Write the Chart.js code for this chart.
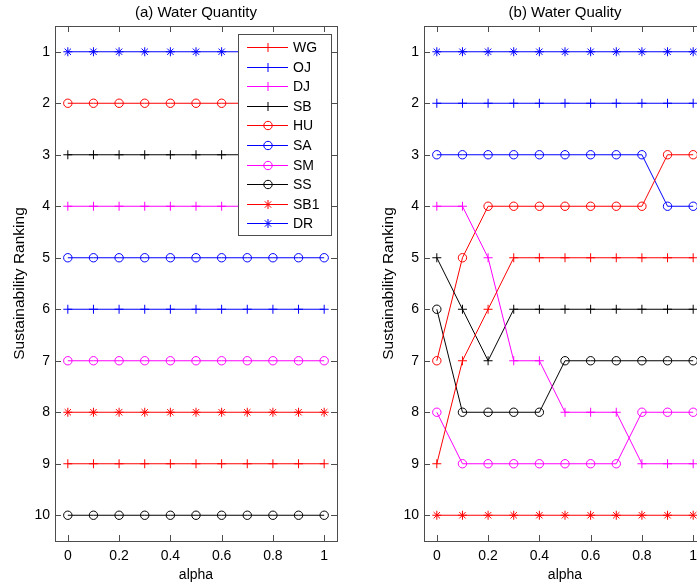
<!DOCTYPE html>
<html>
<head>
<meta charset="utf-8">
<script src="https://cdn.jsdelivr.net/npm/chart.js@4/dist/chart.umd.min.js"></script>
<style>
  html, body { margin: 0; padding: 0; background: #fff; overflow: hidden; width: 697px; height: 585px; }
  .panel { position: absolute; top: 0; width: 350px; height: 585px; }
  #left { left: 0; }
  #right { left: 369px; }
</style>
</head>
<body>
<div class="panel" id="left"><canvas id="qtyChart"></canvas></div>
<div class="panel" id="right"><canvas id="qualChart"></canvas></div>
<script>
// --- Data ---
const alphas = [0, 0.1, 0.2, 0.3, 0.4, 0.5, 0.6, 0.7, 0.8, 0.9, 1];
const xTicks = [0, 0.2, 0.4, 0.6, 0.8, 1];
const yTicks = [1, 2, 3, 4, 5, 6, 7, 8, 9, 10];
const names = ['WG', 'OJ', 'DJ', 'SB', 'HU', 'SA', 'SM', 'SS', 'SB1', 'DR'];

// (a) Water Quantity rankings
const qtyWG  = [9, 9, 9, 9, 9, 9, 9, 9, 9, 9, 9];
const qtyOJ  = [6, 6, 6, 6, 6, 6, 6, 6, 6, 6, 6];
const qtyDJ  = [4, 4, 4, 4, 4, 4, 4, 4, 4, 4, 4];
const qtySB  = [3, 3, 3, 3, 3, 3, 3, 3, 3, 3, 3];
const qtyHU  = [2, 2, 2, 2, 2, 2, 2, 2, 2, 2, 2];
const qtySA  = [5, 5, 5, 5, 5, 5, 5, 5, 5, 5, 5];
const qtySM  = [7, 7, 7, 7, 7, 7, 7, 7, 7, 7, 7];
const qtySS  = [10, 10, 10, 10, 10, 10, 10, 10, 10, 10, 10];
const qtySB1 = [8, 8, 8, 8, 8, 8, 8, 8, 8, 8, 8];
const qtyDR  = [1, 1, 1, 1, 1, 1, 1, 1, 1, 1, 1];

// (b) Water Quality rankings
const qualWG  = [9, 7, 6, 5, 5, 5, 5, 5, 5, 5, 5];
const qualOJ  = [2, 2, 2, 2, 2, 2, 2, 2, 2, 2, 2];
const qualDJ  = [4, 4, 5, 7, 7, 8, 8, 8, 9, 9, 9];
const qualSB  = [5, 6, 7, 6, 6, 6, 6, 6, 6, 6, 6];
const qualHU  = [7, 5, 4, 4, 4, 4, 4, 4, 4, 3, 3];
const qualSA  = [3, 3, 3, 3, 3, 3, 3, 3, 3, 4, 4];
const qualSM  = [8, 9, 9, 9, 9, 9, 9, 9, 8, 8, 8];
const qualSS  = [6, 8, 8, 8, 8, 7, 7, 7, 7, 7, 7];
const qualSB1 = [10, 10, 10, 10, 10, 10, 10, 10, 10, 10, 10];
const qualDR  = [1, 1, 1, 1, 1, 1, 1, 1, 1, 1, 1];

// --- Styles (MATLAB-ish) ---
const seriesStyle = {
    WG:  { color: '#ff0000', marker: 'cross' },
    OJ:  { color: '#0000ff', marker: 'cross' },
    DJ:  { color: '#ff00ff', marker: 'cross' },
    SB:  { color: '#000000', marker: 'cross' },
    HU:  { color: '#ff0000', marker: 'circle' },
    SA:  { color: '#0000ff', marker: 'circle' },
    SM:  { color: '#ff00ff', marker: 'circle' },
    SS:  { color: '#000000', marker: 'circle' },
    SB1: { color: '#ff0000', marker: 'star' },
    DR:  { color: '#0000ff', marker: 'star' }
};
const FONT = "'Liberation Sans', Arial, Helvetica, sans-serif";
const AXIS_COLOR = '#4d4d4d';

function buildDatasets(seriesList) {
    return names.map((name, k) => {
        const st = seriesStyle[name];
        return {
            label: name,
            data: alphas.map((a, i) => ({ x: a, y: seriesList[k][i] })),
            borderColor: st.color,
            backgroundColor: 'transparent',
            borderWidth: 1,
            pointStyle: st.marker,
            pointRadius: st.marker === 'circle' ? 4.2 : 4.5,
            pointBorderWidth: 1,
            pointBorderColor: st.color,
            pointBackgroundColor: 'transparent',
            tension: 0
        };
    });
}

function drawMarker(ctx, style, x, y, r) {
    ctx.beginPath();
    if (style === 'circle') {
        ctx.arc(x, y, r, 0, Math.PI * 2);
    } else {
        ctx.moveTo(x - r, y); ctx.lineTo(x + r, y);
        ctx.moveTo(x, y - r); ctx.lineTo(x, y + r);
        if (style === 'star') {
            const d = r * 0.707;
            ctx.moveTo(x - d, y - d); ctx.lineTo(x + d, y + d);
            ctx.moveTo(x - d, y + d); ctx.lineTo(x + d, y - d);
        }
    }
    ctx.stroke();
}

// box + inward ticks on all 4 sides, plus the panel title centred on the axes
const boxPlugin = {
    id: 'matlabBox',
    afterDraw(chart, args, opts) {
        const { ctx, chartArea: a, scales } = chart;
        ctx.save();
        ctx.strokeStyle = AXIS_COLOR;
        ctx.lineWidth = 1;
        ctx.strokeRect(Math.round(a.left) + 0.5, Math.round(a.top) + 0.5,
            Math.round(a.right - a.left), Math.round(a.bottom - a.top));
        const len = 6;
        ctx.beginPath();
        xTicks.forEach(v => {
            const px = Math.round(scales.x.getPixelForValue(v)) + 0.5;
            ctx.moveTo(px, a.bottom); ctx.lineTo(px, a.bottom - len);
            ctx.moveTo(px, a.top); ctx.lineTo(px, a.top + len);
        });
        yTicks.forEach(v => {
            const py = Math.round(scales.y.getPixelForValue(v)) + 0.5;
            ctx.moveTo(a.left, py); ctx.lineTo(a.left + len, py);
            ctx.moveTo(a.right, py); ctx.lineTo(a.right - len, py);
        });
        ctx.stroke();

        // title
        ctx.fillStyle = '#000';
        ctx.font = '15px ' + FONT;
        ctx.textAlign = 'center';
        ctx.textBaseline = 'middle';
        ctx.fillText(opts.text, (a.left + a.right) / 2, 13);
        ctx.restore();
    }
};

// legend box inside the plot, top right (only on the left panel)
const legendPlugin = {
    id: 'insideLegend',
    afterDatasetsDraw(chart, args, opts) {
        if (!opts.show) return;
        const { ctx, chartArea: a } = chart;
        const right = Math.round(a.right) - 6, top = Math.round(a.top) + 8;
        const w = 93, rowH = 19.6, h = 201;
        const left = right - w;
        ctx.save();
        ctx.fillStyle = '#ffffff';
        ctx.fillRect(left, top, w, h);
        ctx.strokeStyle = AXIS_COLOR;
        ctx.lineWidth = 1;
        ctx.strokeRect(left + 0.5, top + 0.5, w, h);
        ctx.font = '14px ' + FONT;
        ctx.textBaseline = 'middle';
        chart.data.datasets.forEach((ds, i) => {
            const y = Math.round(top + 13 + i * rowH) + 0.5;
            ctx.strokeStyle = ds.borderColor;
            ctx.beginPath();
            ctx.moveTo(left + 9, y); ctx.lineTo(left + 50, y);
            ctx.stroke();
            drawMarker(ctx, ds.pointStyle, left + 30, y, ds.pointStyle === 'circle' ? 4.2 : 4.5);
            ctx.fillStyle = '#000';
            ctx.fillText(ds.label, left + 55, y + 1);
        });
        ctx.restore();
    }
};

function makeChart(canvasId, title, seriesList, showLegend) {
    const ctx = document.getElementById(canvasId).getContext('2d');
    return new Chart(ctx, {
        type: 'line',
        data: { datasets: buildDatasets(seriesList) },
        options: {
            responsive: true,
            maintainAspectRatio: false,
            animation: false,
            layout: { padding: { left: 0, right: 13, top: 26, bottom: 0 } },
            plugins: {
                legend: { display: false },
                tooltip: { enabled: false },
                title: { display: false },
                matlabBox: { text: title },
                insideLegend: { show: showLegend }
            },
            scales: {
                x: {
                    type: 'linear', min: -0.05, max: 1.05,
                    grid: { display: false, drawTicks: false },
                    border: { display: false },
                    afterBuildTicks: s => { s.ticks = xTicks.map(v => ({ value: v })); },
                    ticks: { color: '#000', font: { family: FONT, size: 14 }, padding: 7,
                             maxRotation: 0, autoSkip: false, callback: v => String(v) },
                    title: { display: true, text: 'alpha', color: '#000',
                             font: { family: FONT, size: 14 }, padding: { top: 0, bottom: 1 } },
                    afterFit: s => { s.height = 44; }
                },
                y: {
                    type: 'linear', reverse: true, min: 0.5, max: 10.5,
                    grid: { display: false, drawTicks: false },
                    border: { display: false },
                    afterBuildTicks: s => { s.ticks = yTicks.map(v => ({ value: v })); },
                    ticks: { color: '#000', font: { family: FONT, size: 14 }, padding: 5,
                             autoSkip: false, callback: v => String(v) },
                    title: { display: true, text: 'Sustainability Ranking', color: '#000',
                             font: { family: FONT, size: 15.5 }, padding: { top: 10, bottom: 0 } },
                    afterFit: s => { s.width = 55; }
                }
            }
        },
        plugins: [boxPlugin, legendPlugin]
    });
}

makeChart('qtyChart', '(a) Water Quantity',
    [qtyWG, qtyOJ, qtyDJ, qtySB, qtyHU, qtySA, qtySM, qtySS, qtySB1, qtyDR], true);
makeChart('qualChart', '(b) Water Quality',
    [qualWG, qualOJ, qualDJ, qualSB, qualHU, qualSA, qualSM, qualSS, qualSB1, qualDR], false);
</script>
</body>
</html>
